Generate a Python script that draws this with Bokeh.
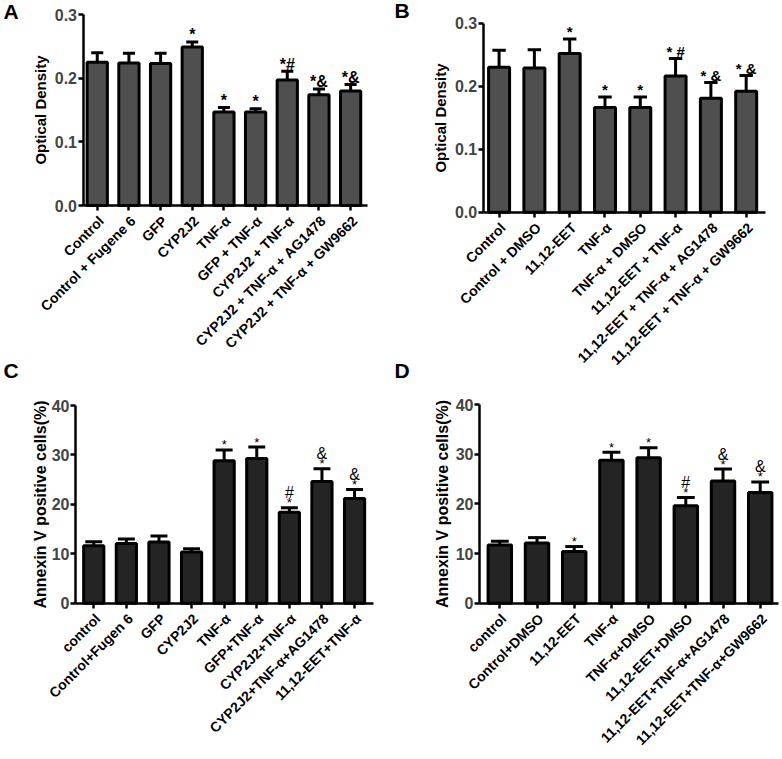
import math
from bokeh.plotting import figure
from bokeh.models import Range1d, FixedTicker, PrintfTickFormatter, ColumnDataSource
from bokeh.layouts import column, row
from bokeh.core.properties import value
from bokeh.embed import file_html
from bokeh.resources import INLINE

FONT = "Liberation Sans"

# ---------------- data ----------------
a_labels = ["Control", "Control + Fugene 6", "GFP", "CYP2J2", "TNF-\u03b1", "GFP + TNF-\u03b1",
            "CYP2J2 + TNF-\u03b1", "CYP2J2 + TNF-\u03b1 + AG1478", "CYP2J2 + TNF-\u03b1 + GW9662"]
a_mean = [0.225, 0.224, 0.223, 0.249, 0.147, 0.147, 0.197, 0.174, 0.180]
a_sem = [0.015, 0.015, 0.016, 0.008, 0.007, 0.005, 0.014, 0.009, 0.010]
a_sig = ["", "", "", "*", "*", "*", "*#", "*&", "*&"]

b_labels = ["Control", "Control + DMSO", "11,12-EET", "TNF-\u03b1", "TNF-\u03b1 + DMSO",
            "11,12-EET + TNF-\u03b1", "11,12-EET + TNF-\u03b1 + AG1478", "11,12-EET + TNF-\u03b1 + GW9662"]
b_mean = [0.230, 0.229, 0.252, 0.166, 0.166, 0.216, 0.181, 0.192]
b_sem = [0.027, 0.029, 0.023, 0.017, 0.017, 0.028, 0.025, 0.025]
b_sig = ["", "", "*", "*", "*", "* #", "* &", "* &"]

c_labels = ["control", "Control+Fugen 6", "GFP", "CYP2J2", "TNF-\u03b1", "GFP+TNF-\u03b1",
            "CYP2J2+TNF-\u03b1", "CYP2J2+TNF-\u03b1+AG1478", "11,12-EET+TNF-\u03b1"]
c_mean = [11.6, 12.1, 12.4, 10.35, 28.8, 29.3, 18.4, 24.6, 21.2]
c_sem = [0.85, 0.9, 1.2, 0.65, 2.2, 2.3, 0.9, 2.6, 1.8]
c_star = ["", "", "", "", "*", "*", "*", "*", "*"]
c_mark = ["", "", "", "", "", "", "#", "&", "&"]

d_labels = ["control", "Control+DMSO", "11,12-EET", "TNF-\u03b1", "TNF-\u03b1+DMSO",
            "11,12-EET+DMSO", "11,12-EET+TNF-\u03b1+AG1478", "11,12-EET+TNF-\u03b1+GW9662"]
d_mean = [11.7, 12.1, 10.4, 28.8, 29.3, 19.6, 24.6, 22.3]
d_sem = [0.75, 1.1, 1.0, 1.6, 2.0, 1.7, 2.4, 2.1]
d_star = ["", "", "*", "*", "*", "*", "*", "*"]
d_mark = ["", "", "", "", "", "#", "&", "&"]

od_ticks = [0.0, 0.1, 0.2, 0.3]
pct_ticks = [0, 10, 20, 30, 40]


def panel(letters, labels, mean, sem, W, H, axis_px, zero_px, s, k, xa, ytop,
          yticks, fmt, fill, bar_w, cap_hw, ylabel, ylabel_size, xlabel_size,
          ylabel_standoff):
    # frame covers the whole canvas; axes are pinned at data locations
    x_start = xa[0] - axis_px / s
    x_end = x_start + W / s
    y_end = zero_px / k
    y_start = -(H - zero_px) / k
    p = figure(width=W, height=H, x_range=Range1d(x_start, x_end),
               y_range=Range1d(y_start, y_end), output_backend="svg",
               toolbar_location=None, min_border=0)
    p.title.visible = False
    p.outline_line_color = None
    p.grid.visible = False

    n = len(labels)
    idx = list(range(n))
    tops = [m + e for m, e in zip(mean, sem)]
    src = ColumnDataSource(dict(x=idx, mean=mean, top=tops, zero=[0] * n, lab=labels,
                                cx0=[i - cap_hw for i in idx], cx1=[i + cap_hw for i in idx]))
    p.segment(x0="x", y0="mean", x1="x", y1="top", source=src, line_color="black", line_width=3)
    p.segment(x0="cx0", y0="top", x1="cx1", y1="top", source=src, line_color="black", line_width=3)
    p.vbar(x="x", top="mean", bottom=0, width=bar_w, source=src,
           fill_color=fill, line_color="black", line_width=3)

    p.xaxis.fixed_location = 0
    p.xaxis.bounds = (xa[0], xa[1])
    p.xaxis.ticker = FixedTicker(ticks=idx)
    p.xaxis.major_label_text_color = None
    p.yaxis.fixed_location = xa[0]
    p.yaxis.bounds = (0, ytop)
    p.yaxis.ticker = FixedTicker(ticks=yticks)
    if fmt:
        p.yaxis.formatter = PrintfTickFormatter(format=fmt)
    p.yaxis.major_label_text_font_size = "16px"
    p.yaxis.major_label_standoff = 1
    p.yaxis.axis_label = ylabel
    p.yaxis.axis_label_text_font = FONT
    p.yaxis.axis_label_text_font_style = "bold"
    p.yaxis.axis_label_text_font_size = ylabel_size
    p.yaxis.axis_label_text_color = "black"
    p.yaxis.axis_label_standoff = ylabel_standoff
    for ax in p.axis:
        ax.axis_line_width = 2.5
        ax.axis_line_color = "black"
        ax.major_tick_line_width = 2.5
        ax.major_tick_line_color = "black"
        ax.major_tick_out = 5
        ax.major_tick_in = 0
        ax.minor_tick_line_color = None
        ax.major_label_text_font = FONT
        ax.major_label_text_font_style = "bold"

    # category labels under the ticks, rotated 45 degrees
    p.text(x="x", y="zero", text="lab", source=src, angle=math.pi / 4,
           text_align="right", text_baseline="middle", x_offset=4, y_offset=13,
           text_font=value(FONT), text_font_size=xlabel_size, text_font_style="bold",
           text_color="black")

    # panel letters (pixel position of left edge and top edge on this canvas)
    for let, lx, ltop in letters:
        p.text(x=[x_start + lx / s], y=[y_end - ltop / k], text=[let], text_align="left",
               text_baseline="top", text_font=value(FONT), text_font_size="21px",
               text_font_style="bold", text_color="black")
    return p, src


TOP_H = 386
BOT_H = 759 - TOP_H

# Panel A  (canvas at page 0,0) - also carries the "C" letter of the panel below
pA, srcA = panel([("A", 3, -1), ("C", 3, 358)], a_labels, a_mean, a_sem, 391, TOP_H,
                 82.5, 205, 31.67, 191 / 0.3,
                 (-0.45, 8.53), 0.3, od_ticks, "%.1f", "#4f4f4f", 0.64, 0.19,
                 "Optical Density", "15px", "14px", 3)
srcA.data["sig"] = a_sig
pA.text(x="x", y="top", text="sig", source=srcA, text_align="center", text_baseline="alphabetic",
        y_offset=-7, text_font=value(FONT), text_font_size="16px", text_font_style="bold",
        text_color="black")

# Panel B  (canvas at page 391,0) - also carries the "D" letter
pB, srcB = panel([("B", 3, -2), ("D", 3, 358)], b_labels, b_mean, b_sem, 391, TOP_H,
                 91.7, 211.7, 35.3, 189 / 0.3,
                 (-0.45, 7.54), 0.3, od_ticks, "%.1f", "#4f4f4f", 0.595, 0.19,
                 "Optical Density", "15px", "14px", 3)
srcB.data["sig"] = b_sig
pB.text(x="x", y="top", text="sig", source=srcB, text_align="center", text_baseline="alphabetic",
        y_offset=-7, text_font=value(FONT), text_font_size="15px", text_font_style="bold",
        text_color="black")

# Panel C  (canvas at page 0,TOP_H)
pC, srcC = panel([], c_labels, c_mean, c_sem, 391, BOT_H, 75, 602.7 - TOP_H, 32.6, 197.7 / 40,
                 (-0.56, 8.58), 40, pct_ticks, None, "#242424", 0.62, 0.26,
                 "Annexin V positive cells(%)", "16px", "14px", 0)
srcC.data["star"] = c_star
srcC.data["mark"] = c_mark
pC.text(x="x", y="top", text="star", source=srcC, text_align="center", text_baseline="alphabetic",
        y_offset=-5, text_font=value(FONT), text_font_size="13px", text_color="black")
pC.text(x="x", y="top", text="mark", source=srcC, text_align="center", text_baseline="alphabetic",
        y_offset=-15, text_font=value(FONT), text_font_size="16px", text_color="black")

# Panel D  (canvas at page 391,TOP_H)
pD, srcD = panel([], d_labels, d_mean, d_sem, 391, BOT_H, 88, 602.7 - TOP_H, 37.2, 198.7 / 40,
                 (-0.546, 7.48), 40, pct_ticks, None, "#242424", 0.63, 0.24,
                 "Annexin V positive cells(%)", "16px", "14px", 2)
srcD.data["star"] = d_star
srcD.data["mark"] = d_mark
pD.text(x="x", y="top", text="star", source=srcD, text_align="center", text_baseline="alphabetic",
        y_offset=-5, text_font=value(FONT), text_font_size="13px", text_color="black")
pD.text(x="x", y="top", text="mark", source=srcD, text_align="center", text_baseline="alphabetic",
        y_offset=-15, text_font=value(FONT), text_font_size="16px", text_color="black")

layout = column(row(pA, pB), row(pC, pD))
open("out.html", "w").write(file_html(layout, INLINE))
